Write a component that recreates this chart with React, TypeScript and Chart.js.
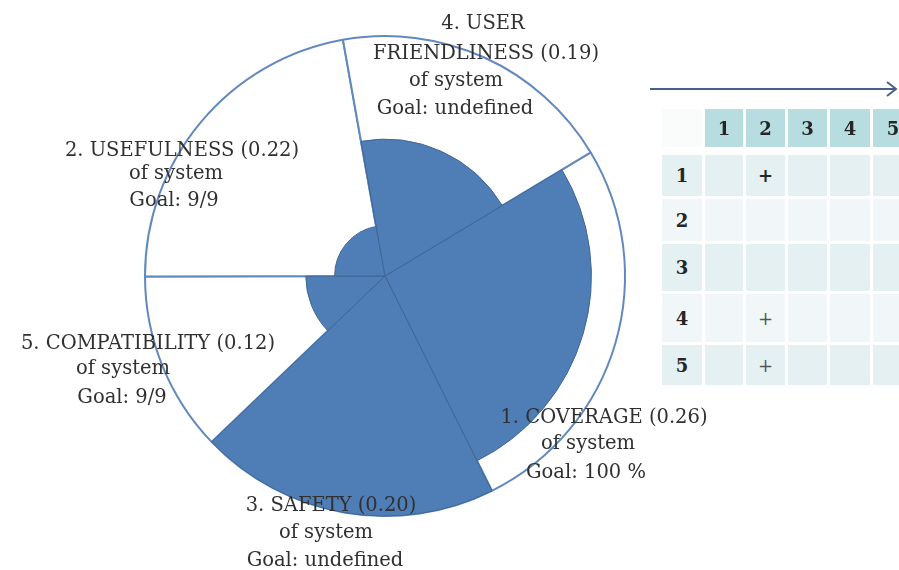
import React, { useEffect, useRef } from "react";
import { Chart, registerables } from "chart.js";

Chart.register(...registerables);

// ---- data (clockwise order, starting at upper right) ----
const categories = ["COVERAGE", "SAFETY", "COMPATIBILITY", "USEFULNESS", "USER\nFRIENDLINESS"];
const numbers = [1, 3, 5, 2, 4];
const weights = [0.26, 0.2, 0.12, 0.22, 0.19];
const achieved = [86, 100, 33, 21, 57];
const fullScale = [100, 100, 100, 100, 100];
const goals = ["100 %", "undefined", "9/9", "9/9", "undefined"];

const matrixCols = ["1", "2", "3", "4", "5"];
const matrixRows = ["1", "2", "3", "4", "5"];
const matrixMarks = [
  ["", "+", "", "", ""],
  ["", "", "", "", ""],
  ["", "", "", "", ""],
  ["", "+", "", "", ""],
  ["", "+", "", "", ""],
];

// ---- layout (positions only) ----
const labelPos: number[][][] = [
  [[604, 417], [588, 443], [586, 472]],
  [[331, 505], [326, 532], [325, 560]],
  [[148, 343], [123, 368], [122, 397]],
  [[182, 150], [176, 173], [174, 200]],
  [[483, 23], [486, 53], [456, 80], [455, 108]],
];
const colWidths = [40, 38, 39, 39, 40, 40];
const rowHeights = [41, 42, 47, 48, 40];
const tableLeft = 662;
const headerTop = 109;
const headerH = 38;
const bodyTop = 155;
const gap = 3;

const sumW = weights.reduce((a, b) => a + b, 0);
const angleFor = (ctx: any) => (weights[ctx.dataIndex] / sumW) * 360;

function labelLines(i: number): string[] {
  const title = `${numbers[i]}. ${categories[i]} (${weights[i].toFixed(2)})`;
  return [...title.split("\n"), "of system", `Goal: ${goals[i]}`];
}

export default function App() {
  const ref = useRef<HTMLCanvasElement>(null);

  useEffect(() => {
    if (!ref.current) return;
    const chart = new Chart(ref.current, {
      type: "polarArea",
      data: {
        labels: categories.map((c) => c.replace("\n", " ")),
        datasets: [
          {
            data: achieved,
            backgroundColor: "#4f7db5",
            borderColor: "#3f6696",
            borderWidth: 1,
            angle: angleFor,
          } as any,
          {
            data: fullScale,
            backgroundColor: "#ffffff",
            borderColor: "#6289be",
            borderWidth: 2,
            angle: angleFor,
          } as any,
        ],
      },
      options: {
        responsive: false,
        animation: false,
        layout: { padding: { left: 145, right: 274, top: 36, bottom: 54 } },
        scales: {
          r: { min: 0, max: 100, startAngle: 59, display: false },
        },
        plugins: { legend: { display: false }, tooltip: { enabled: false } },
      } as any,
    });
    return () => chart.destroy();
  }, []);

  const colLefts: number[] = [];
  let x = tableLeft;
  for (const w of colWidths) {
    colLefts.push(x);
    x += w + gap;
  }
  const rowTops: number[] = [];
  let y = bodyTop;
  for (const h of rowHeights) {
    rowTops.push(y);
    y += h + gap;
  }

  const cell = (key: string, left: number, top: number, w: number, h: number, bg: string, content: React.ReactNode, style: React.CSSProperties = {}) => (
    <div
      key={key}
      style={{
        position: "absolute",
        left,
        top,
        width: w,
        height: h,
        background: bg,
        display: "flex",
        alignItems: "center",
        justifyContent: "center",
        fontFamily: '"DejaVu Serif", serif',
        fontSize: 18,
        fontWeight: 700,
        color: "#262626",
        ...style,
      }}
    >
      {content}
    </div>
  );

  return (
    <div
      style={{
        position: "absolute",
        left: 0,
        top: 0,
        width: 899,
        height: 570,
        overflow: "hidden",
        background: "#ffffff",
      }}
    >
      <canvas ref={ref} width={899} height={570} style={{ position: "absolute", left: 0, top: 0 }} />

      {categories.map((_, i) =>
        labelLines(i).map((line, j) => (
          <div
            key={`l${i}-${j}`}
            style={{
              position: "absolute",
              left: labelPos[i][j][0],
              top: labelPos[i][j][1],
              transform: "translate(-50%, -50%)",
              whiteSpace: "nowrap",
              fontFamily: '"DejaVu Serif", serif',
              fontSize: 19.5,
              lineHeight: 1,
              color: "#303030",
            }}
          >
            {line}
          </div>
        ))
      )}

      <svg width={899} height={570} style={{ position: "absolute", left: 0, top: 0, pointerEvents: "none" }}>
        <line x1={650} y1={89} x2={896} y2={89} stroke="#4b6084" strokeWidth={2} />
        <polyline points="887,82 896,89 887,96" fill="none" stroke="#4b6084" strokeWidth={2} />
      </svg>

      {cell("corner", colLefts[0], headerTop, colWidths[0], headerH, "#fafcfc", "")}
      {matrixCols.map((c, k) =>
        cell(`h${k}`, colLefts[k + 1], headerTop, colWidths[k + 1], headerH, "#b8dde0", c)
      )}
      {matrixRows.map((r, ri) => {
        const bg = ri % 2 === 0 ? "#e4f0f2" : "#f1f7f8";
        return [
          cell(`r${ri}`, colLefts[0], rowTops[ri], colWidths[0], rowHeights[ri], bg, r),
          ...matrixMarks[ri].map((m, ci) =>
            cell(`c${ri}-${ci}`, colLefts[ci + 1], rowTops[ri], colWidths[ci + 1], rowHeights[ri], bg, m, ri === 0 ? {} : { fontWeight: 400, color: "#555" })
          ),
        ];
      })}
    </div>
  );
}
